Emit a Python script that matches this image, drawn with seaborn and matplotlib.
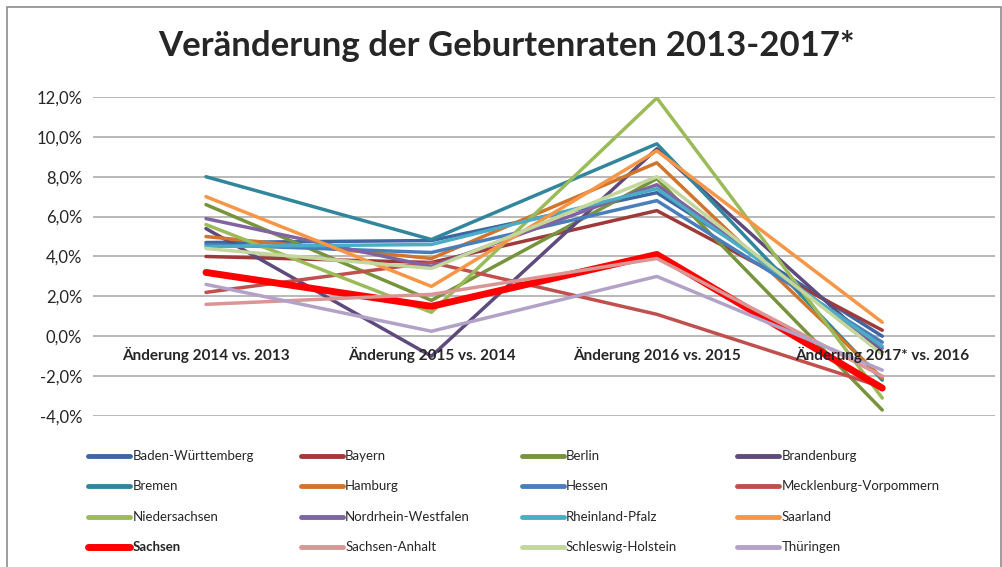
import matplotlib.pyplot as plt
import matplotlib.patches as mpatches
from matplotlib.lines import Line2D
import seaborn as sns
import pandas as pd

categories = ["Änderung 2014 vs. 2013", "Änderung 2015 vs. 2014",
              "Änderung 2016 vs. 2015", "Änderung 2017* vs. 2016"]

states = ["Baden-Württemberg", "Bayern", "Berlin", "Brandenburg",
          "Bremen", "Hamburg", "Hessen", "Mecklenburg-Vorpommern",
          "Niedersachsen", "Nordrhein-Westfalen", "Rheinland-Pfalz", "Saarland",
          "Sachsen", "Sachsen-Anhalt", "Schleswig-Holstein", "Thüringen"]

# percent change per state
bw = [4.7, 4.8, 7.2, 0.0]
bayern = [4.0, 3.7, 6.3, 0.3]
berlin = [6.6, 1.8, 7.9, -3.7]
brandenburg = [5.4, -1.0, 9.4, -0.8]
bremen = [8.0, 4.85, 9.65, -2.2]
hamburg = [5.0, 3.9, 8.7, -2.1]
hessen = [4.6, 4.2, 6.8, -0.3]
mv = [2.2, 3.7, 1.1, -2.55]
niedersachsen = [5.6, 1.2, 11.95, -3.1]
nrw = [5.9, 3.5, 7.6, -0.6]
rp = [4.5, 4.6, 7.4, -0.5]
saarland = [7.0, 2.5, 9.3, 0.7]
sachsen = [3.2, 1.5, 4.1, -2.6]
sachsen_anhalt = [1.6, 2.1, 3.9, -2.0]
sh = [4.4, 3.4, 8.0, -0.9]
thueringen = [2.6, 0.25, 3.0, -1.7]

values = [bw, bayern, berlin, brandenburg, bremen, hamburg, hessen, mv,
          niedersachsen, nrw, rp, saarland, sachsen, sachsen_anhalt, sh, thueringen]

colors = ["#3C67A3", "#9E3B39", "#77933C", "#5F4A7D",
          "#31859C", "#D0742E", "#4A7EBB", "#C0504D",
          "#9BBB59", "#8064A2", "#4BACC6", "#F79646",
          "#FF0000", "#D99694", "#C3D69B", "#B3A2C7"]
palette = dict(zip(states, colors))

rows = []
for s, vals in zip(states, values):
    for i, v in enumerate(vals):
        rows.append({"state": s, "idx": i, "value": v})
df = pd.DataFrame(rows)

sns.set_theme(style="white")
plt.rcParams["font.family"] = ["Lato", "DejaVu Sans"]

fig = plt.figure(figsize=(10.03, 5.67), dpi=100)
ax = fig.add_axes([0.093, 0.2663, 0.899, 0.5627])

for s in states:
    sub = df[df["state"] == s]
    sns.lineplot(data=sub, x="idx", y="value", color=palette[s],
                 linewidth=5.0 if s == "Sachsen" else 2.5, ax=ax, legend=False)

ax.set_xlim(-0.5, 3.5)
ax.set_ylim(-4, 12)
ax.set_yticks(range(-4, 13, 2))
ax.set_yticklabels([f"{t:.1f}%".replace(".", ",") for t in range(-4, 13, 2)], fontsize=12)
ax.set_xticks([])
ax.set_xlabel("")
ax.set_ylabel("")
ax.tick_params(axis="y", length=0, pad=8)
ax.yaxis.grid(True, color="#A6A6A6", linewidth=1.1)
ax.set_axisbelow(True)
for sp in ax.spines.values():
    sp.set_visible(False)

for i, c in enumerate(categories):
    ax.text(i, -0.55, c, ha="center", va="top", fontsize=11, fontweight="bold", zorder=5)

fig.text(0.505, 0.918, "Veränderung der Geburtenraten 2013-2017*", ha="center", va="center",
         fontsize=25, fontweight="bold")

# legend, filled row-wise like the original
col_x = [0.088, 0.300, 0.520, 0.735]
row_y = [0.196, 0.143, 0.088, 0.035]
for k, s in enumerate(states):
    r, c = divmod(k, 4)
    x0 = col_x[c]
    y0 = row_y[r]
    fig.add_artist(Line2D([x0, x0 + 0.042], [y0, y0], transform=fig.transFigure,
                          color=palette[s], linewidth=5.0 if s == "Sachsen" else 3.5))
    fig.text(x0 + 0.044, y0, s, ha="left", va="center", fontsize=9.5,
             fontweight="bold" if s == "Sachsen" else "normal")

fig.add_artist(mpatches.Rectangle((0.007, -0.01), 0.991, 0.998, transform=fig.transFigure,
                                  fill=False, edgecolor="#8C8C8C", linewidth=1.2))

fig.savefig("out.png", dpi=100)
